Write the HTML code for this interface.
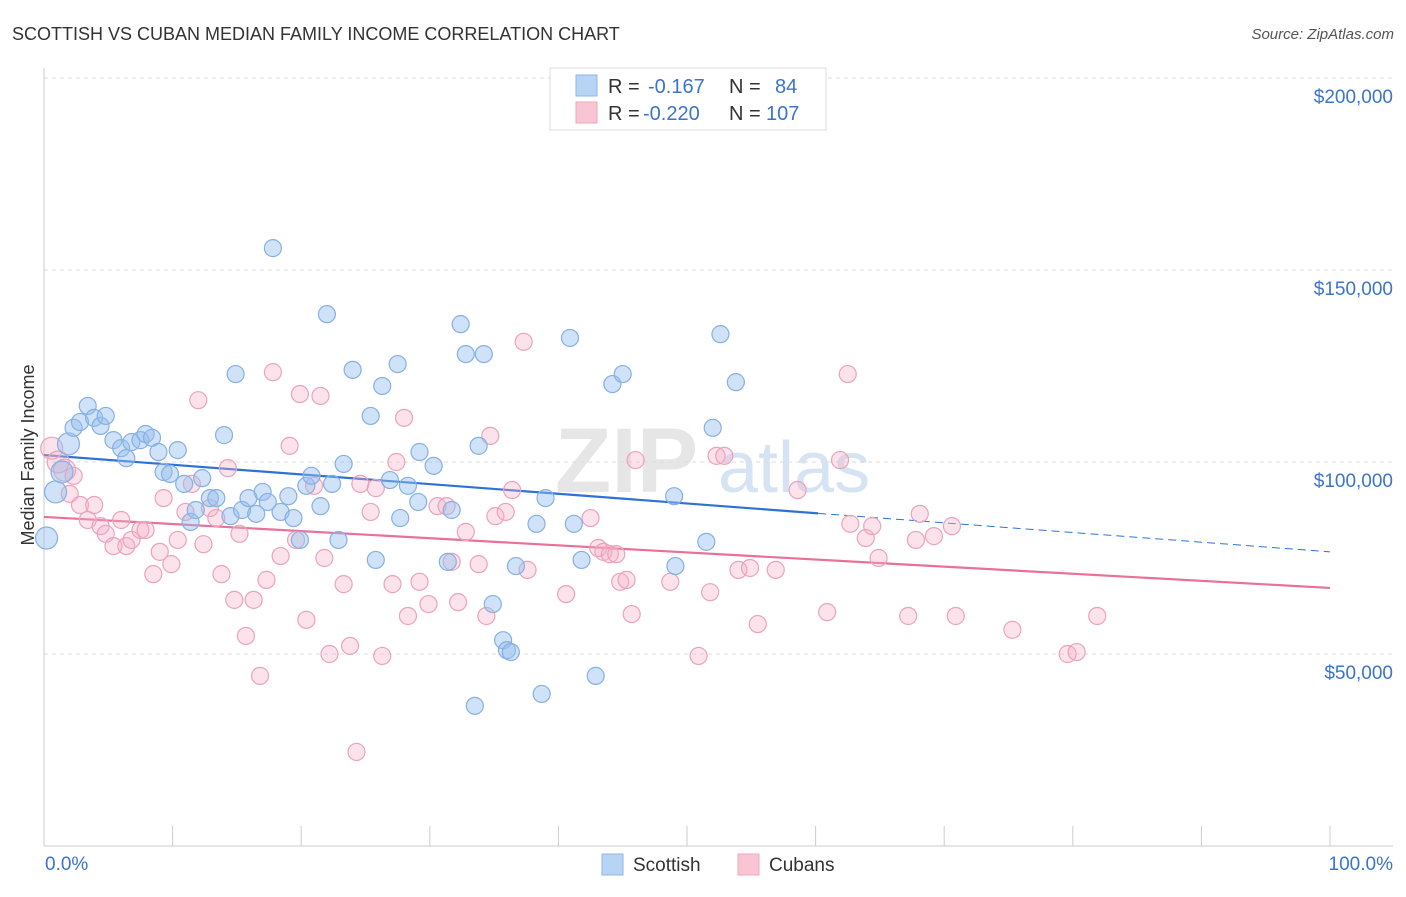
<!DOCTYPE html>
<html><head><meta charset="utf-8"><style>
body{margin:0;background:#fff;font-family:"Liberation Sans",sans-serif;}
svg text{font-family:"Liberation Sans",sans-serif;}
</style></head><body>
<svg id="chart" width="1406" height="892" xmlns="http://www.w3.org/2000/svg">
<text x="12" y="40" font-size="18" fill="#333">SCOTTISH VS CUBAN MEDIAN FAMILY INCOME CORRELATION CHART</text>
<text x="1394" y="39" font-size="15" fill="#555" text-anchor="end" font-style="italic">Source: ZipAtlas.com</text>
<text x="555" y="492" font-size="92" fill="#e6e6e6" font-family="Liberation Serif" font-weight="bold">ZIP</text>
<text x="718" y="492" font-size="72" fill="#d5e3f3">atlas</text>
<g id="grid"></g>
<g id="axes"></g>
<text transform="translate(34,455) rotate(-90)" font-size="18" fill="#333" text-anchor="middle">Median Family Income</text>
<g id="trend"></g>
<g id="pts"></g>
<g>
<rect x="550" y="68" width="276" height="62" fill="#fff" stroke="#ddd"/>
<rect x="576" y="75" width="21" height="21" fill="#b8d4f4" stroke="#8fb6e8"/>
<rect x="576" y="102" width="21" height="21" fill="#f9c5d5" stroke="#eea8be"/>
<text x="608" y="93" font-size="20" fill="#333">R = </text><text x="648" y="93" font-size="20" fill="#3b74c9">-0.167</text>
<text x="729" y="93" font-size="20" fill="#333">N = </text><text x="775" y="93" font-size="20" fill="#3b74c9">84</text>
<text x="608" y="120" font-size="20" fill="#333">R = </text><text x="643" y="120" font-size="20" fill="#3b74c9">-0.220</text>
<text x="729" y="120" font-size="20" fill="#333">N = </text><text x="766" y="120" font-size="20" fill="#3b74c9">107</text>
</g>
<g>
<rect x="602" y="854" width="21" height="21" fill="#b8d4f4" stroke="#8fb6e8"/>
<text x="633" y="871" font-size="19" fill="#333">Scottish</text>
<rect x="738" y="854" width="21" height="21" fill="#f9c5d5" stroke="#eea8be"/>
<text x="769" y="871" font-size="19" fill="#333">Cubans</text>
</g>
</svg>
<script>
const yTicks=[50000,100000,150000,200000];
const yTickLabels=["$50,000","$100,000","$150,000","$200,000"];
const xTickLabels=["0.0%","100.0%"];
const scotX=[0.2,0.9,1.4,1.9,2.3,2.8,3.4,3.9,4.4,4.8,5.4,6.0,6.4,6.8,7.5,7.9,8.4,8.9,9.3,9.8,10.4,10.9,11.4,11.8,12.3,12.9,13.4,14.0,14.5,14.9,15.4,15.9,16.5,17.0,17.4,17.8,18.4,19.0,19.4,19.9,20.4,20.8,21.5,22.0,22.4,22.9,23.3,24.0,25.4,25.8,26.3,26.9,27.5,27.7,28.3,29.1,29.2,30.3,31.4,31.7,32.4,32.8,33.5,33.8,34.2,34.9,35.7,36.0,36.3,36.7,38.3,38.7,39.0,40.9,41.2,41.8,42.9,44.2,45.0,49.0,49.1,51.5,52.0,52.6,53.8];
const scotY=[80.2,92.2,97.4,104.7,108.9,110.4,114.6,111.5,109.4,112.0,105.7,103.6,101.0,105.2,105.7,107.3,106.3,102.6,97.4,96.9,103.1,94.3,84.4,87.5,95.8,90.6,90.6,107.0,85.9,122.9,87.5,90.6,86.5,92.2,89.6,155.7,87.0,91.1,85.4,79.7,93.8,96.4,88.5,138.5,94.3,79.7,99.5,124.0,112.0,74.5,119.8,95.3,125.5,85.4,93.8,89.6,102.6,99.0,74.0,87.5,135.9,128.1,36.5,104.2,128.1,63.0,53.6,51.0,50.5,72.9,83.9,39.6,90.6,132.3,83.9,74.5,44.3,120.3,122.9,91.1,72.9,79.2,108.9,133.3,120.8];
const cubX=[0.6,1.1,1.6,2.0,2.3,2.8,3.4,3.9,4.4,4.8,5.4,6.0,6.4,6.8,7.5,7.9,8.5,9.0,9.3,9.9,10.4,11.0,11.5,12.0,12.4,12.9,13.4,13.8,14.3,14.8,15.2,15.7,16.3,16.8,17.3,17.8,18.4,19.1,19.6,19.9,20.4,21.0,21.5,21.8,22.2,23.3,23.8,24.6,25.4,25.8,26.3,27.1,27.4,28.0,28.3,29.2,29.9,30.6,31.3,31.7,32.2,32.8,33.8,34.4,34.7,35.1,35.9,36.4,37.3,37.6,24.3,40.6,42.5,43.1,43.5,44.0,44.5,44.8,45.3,45.7,46.0,48.7,50.9,51.8,52.3,52.9,54.0,54.9,55.5,56.9,58.6,60.9,61.9,62.5,62.7,63.9,64.4,64.9,67.2,67.8,68.1,69.2,70.6,70.9,75.3,79.6,80.3,81.9];
const cubY=[103.6,100.0,97.9,91.7,96.4,88.8,84.9,88.8,83.3,81.3,78.1,84.9,78.1,79.7,82.3,82.3,70.8,76.6,90.6,73.4,79.7,87.0,94.3,116.1,78.6,88.0,85.4,70.8,98.4,64.1,81.3,54.7,64.1,44.3,69.3,123.4,75.5,104.2,79.7,117.7,58.9,93.8,117.2,75.0,50.0,68.2,52.1,94.3,87.0,93.2,49.5,68.2,100.0,111.5,59.9,68.8,63.0,88.5,88.5,74.0,63.5,81.8,73.4,59.9,106.8,85.9,87.0,92.7,131.3,71.9,24.5,65.6,85.4,77.6,76.6,76.0,76.0,68.8,69.3,60.4,100.5,68.8,49.5,66.1,101.6,101.6,71.9,72.4,57.8,71.9,92.7,60.9,100.5,122.9,83.9,80.2,83.3,75.0,59.9,79.7,86.5,80.7,83.3,59.9,56.3,50.0,50.5,59.9];
const scotTrend=[101.8,76.6]; // at 0% and 100%
const cubTrend=[85.7,67.2];
const scotSolidEnd=60.2;
const X0=44,X1=1330,Y0=846;
const sx=p=>X0+(X1-X0)*p/100;
const sy=v=>Y0-(v/50000)*192;
const syk=k=>sy(k*1000);
const NS="http://www.w3.org/2000/svg";
function mk(par,tag,at){const e=document.createElementNS(NS,tag);for(const k in at)e.setAttribute(k,at[k]);par.appendChild(e);return e;}
const grid=document.getElementById('grid'),axes=document.getElementById('axes');
yTicks.forEach((t,i)=>{
  const l=mk(grid,'line',{x1:X0,x2:1393,y1:sy(t),y2:sy(t),stroke:'#ddd','stroke-dasharray':'4,4'});
  
  
  const tx=mk(axes,'text',{x:1393,y:sy(t)+25,'font-size':19,fill:'#3b74c9','text-anchor':'end'});
  tx.textContent=yTickLabels[i];
  
  
});
let a=mk(axes,'line',{x1:X0,x2:X0,y1:68,y2:Y0,stroke:'#ccc'});


a=mk(axes,'line',{x1:X0,x2:1393,y1:Y0,y2:Y0,stroke:'#ccc'});


for(let i=0;i<=10;i++){
  const t=mk(axes,'line',{x1:sx(i*10),x2:sx(i*10),y1:826,y2:Y0,stroke:'#ccc'});
  
  
}
[[0,'start',45],[100,'end',1393]].forEach((d,i)=>{
  const t=mk(axes,'text',{x:d[2],y:870,'font-size':19,fill:'#3b74c9','text-anchor':d[1]});
  t.textContent=xTickLabels[i];
  
  
});
const pts=document.getElementById('pts');
function dots(xs,ys,fill,stroke,name){
  xs.forEach((x,i)=>{
    const r=(x<2)?11:8.5;
    const c=mk(pts,'circle',{cx:sx(x),cy:syk(ys[i]),r:r,fill:fill,stroke:stroke,'stroke-width':1.2});
    
    
  });
}
dots(cubX,cubY,'rgba(245,175,198,0.35)','#eba3bb','cubans-point');
dots(scotX,scotY,'rgba(150,190,238,0.45)','#86b0e4','scottish-point');
const tr=document.getElementById('trend');
const lerp=(t,p)=>t[0]+(t[1]-t[0])*p/100;
let l=mk(tr,'line',{x1:sx(0),y1:syk(cubTrend[0]),x2:sx(100),y2:syk(cubTrend[1]),stroke:'#e8709a','stroke-width':2.2});


l=mk(tr,'line',{x1:sx(0),y1:syk(scotTrend[0]),x2:sx(scotSolidEnd),y2:syk(lerp(scotTrend,scotSolidEnd)),stroke:'#2f72d6','stroke-width':2.2});


l=mk(tr,'line',{x1:sx(scotSolidEnd),y1:syk(lerp(scotTrend,scotSolidEnd)),x2:sx(100),y2:syk(scotTrend[1]),stroke:'#2f72d6','stroke-width':1,'stroke-dasharray':'8,5'});


</script>
</body></html>
